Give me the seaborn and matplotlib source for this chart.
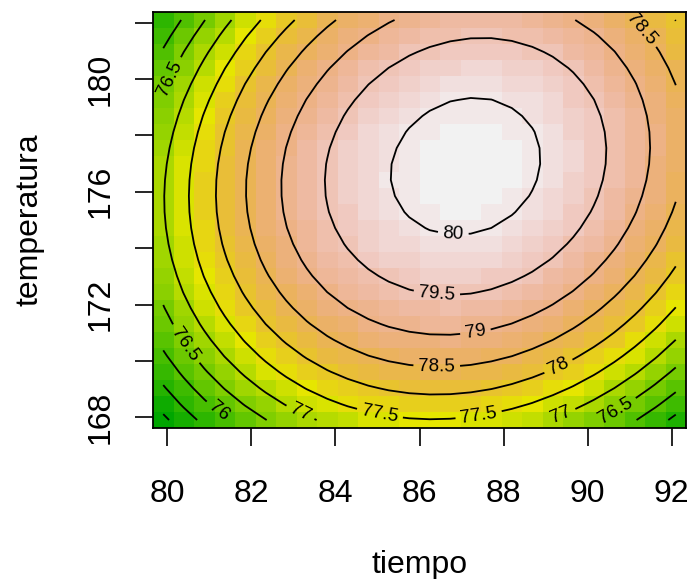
import colorsys

import matplotlib
matplotlib.use("Agg")
import matplotlib.pyplot as plt
from matplotlib.colors import ListedColormap
import numpy as np
import seaborn as sns

# Prediction grid (tiempo x temperatura)
tiempo = np.linspace(79.9, 92.1, 26)
temperatura = np.linspace(167.9, 182.1, 26)

# Fitted second-order response surface (canonical form)
punto_optimo = [87.1, 176.9]          # tiempo, temperatura at the stationary point
rendimiento_max = 80.2
curvatura = [0.063, 0.034]            # quadratic terms: tiempo, temperatura
interaccion = 0.011                   # tiempo x temperatura

niveles = [74.5, 75.0, 75.5, 76.0, 76.5, 77.0, 77.5, 78.0, 78.5, 79.0, 79.5, 80.0]
ticks_tiempo = [80, 82, 84, 86, 88, 90, 92]
ticks_temperatura = [168, 170, 172, 174, 176, 178, 180, 182]
etiquetas_temperatura = ["168", "", "172", "", "176", "", "180", ""]

# where the contour labels sit (tiempo, temperatura)
posiciones_etiquetas = [
    (86.80, 174.54), (86.41, 172.34), (87.33, 171.04), (86.41, 169.74),
    (89.27, 169.92), (85.06, 168.15), (87.40, 168.15), (83.16, 168.15),
    (89.35, 168.15), (90.62, 168.38), (80.46, 170.63), (80.18, 179.96),
    (81.25, 168.26), (91.02, 181.44),
]


def terrain_colors(n):
    """Green -> yellow -> tan -> white ramp (R's terrain.colors)."""
    k = n // 2
    cols = []
    for h, s, v in zip(np.linspace(4 / 12, 2 / 12, k),
                       np.linspace(1, 1, k),
                       np.linspace(0.65, 0.9, k)):
        cols.append(colorsys.hsv_to_rgb(h, s, v))
    for h, s, v in zip(np.linspace(2 / 12, 0, n - k + 1)[1:],
                       np.linspace(1, 0, n - k + 1)[1:],
                       np.linspace(0.9, 0.95, n - k + 1)[1:]):
        cols.append(colorsys.hsv_to_rgb(h, s, v))
    return cols


# Evaluate the surface on the grid (rows = temperatura, cols = tiempo)
T, Y = np.meshgrid(tiempo, temperatura)
dt = T - punto_optimo[0]
dy = Y - punto_optimo[1]
rend = (rendimiento_max - curvatura[0] * dt ** 2 - curvatura[1] * dy ** 2
        + interaccion * dt * dy)

sns.set_theme(style="white")
plt.rcParams["font.family"] = ["Liberation Sans", "DejaVu Sans"]
plt.rcParams["text.color"] = "black"
plt.rcParams["axes.labelcolor"] = "black"

fig = plt.figure(figsize=(6.91, 5.79), dpi=100)
ax = fig.add_axes([153 / 691, 1 - 428 / 579, (686 - 153) / 691, (428 - 12) / 579])

cmap = ListedColormap(terrain_colors(50))
sns.heatmap(rend, ax=ax, cmap=cmap, vmin=rend.min(), vmax=rend.max(),
            cbar=False, xticklabels=False, yticklabels=False)
ax.invert_yaxis()

# heatmap cells live in index coordinates; map data values onto them
step_t = tiempo[1] - tiempo[0]
step_y = temperatura[1] - temperatura[0]


def a_indice_t(v):
    return (v - tiempo[0]) / step_t + 0.5


def a_indice_y(v):
    return (v - temperatura[0]) / step_y + 0.5


xi = np.arange(len(tiempo)) + 0.5
yi = np.arange(len(temperatura)) + 0.5

cs = ax.contour(xi, yi, rend, levels=niveles, colors="black", linewidths=1.3)
ax.clabel(cs, fmt=lambda v: f"{v:g}", fontsize=13.5, inline=True, inline_spacing=5,
          manual=[(a_indice_t(a), a_indice_y(b)) for a, b in posiciones_etiquetas])

ax.set_xticks([a_indice_t(v) for v in ticks_tiempo])
ax.set_xticklabels([str(v) for v in ticks_tiempo], rotation=0)
ax.set_yticks([a_indice_y(v) for v in ticks_temperatura])
ax.set_yticklabels(etiquetas_temperatura, rotation=90, va="center")

ax.tick_params(axis="both", which="both", direction="out", length=13, width=1.2,
               colors="black", labelsize=23, bottom=True, left=True)
ax.tick_params(axis="x", pad=24)
ax.tick_params(axis="y", pad=14)
ax.set_xlabel("")
ax.set_ylabel("")

for sp in ax.spines.values():
    sp.set_visible(True)
    sp.set_color("black")
    sp.set_linewidth(1.3)

fig.text(419.5 / 691, 1 - 565 / 579, "tiempo", ha="center", va="center",
         fontsize=23, color="black")
fig.text(30 / 691, 1 - 220 / 579, "temperatura", ha="center", va="center",
         rotation=90, fontsize=23, color="black")

fig.savefig("out.png", dpi=100)
